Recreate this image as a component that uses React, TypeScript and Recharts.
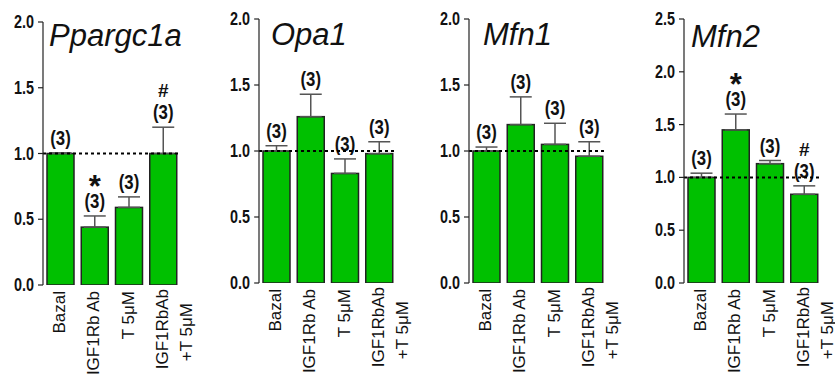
import { BarChart, Bar, XAxis, YAxis, ErrorBar, ReferenceLine } from 'recharts';

// x categories (each entry = lines of the rotated tick label)
const categories = [['Bazal'], ['IGF1Rb Ab'], ['T 5\u03bcM'], ['IGF1RbAb', '+T 5\u03bcM']];

const ppargc1a = [1.0, 0.44, 0.59, 1.0];
const ppargc1aErr = [0.005, 0.085, 0.08, 0.2];
const ppargc1aMarks = ['', '*', '', '#'];

const opa1 = [1.0, 1.26, 0.83, 0.98];
const opa1Err = [0.04, 0.17, 0.11, 0.09];
const opa1Marks = ['', '', '', ''];

const mfn1 = [1.0, 1.2, 1.05, 0.96];
const mfn1Err = [0.03, 0.21, 0.16, 0.11];
const mfn1Marks = ['', '', '', ''];

const mfn2 = [1.0, 1.45, 1.13, 0.84];
const mfn2Err = [0.04, 0.15, 0.03, 0.08];
const mfn2Marks = ['', '*', '', '#'];

const nLabels = ['(3)', '(3)', '(3)', '(3)'];
const ticks2 = [0, 0.5, 1.0, 1.5, 2.0];
const ticks25 = [0, 0.5, 1.0, 1.5, 2.0, 2.5];

const GREEN = '#00c000';
const SANS = "'Liberation Sans', Arial, sans-serif";

const W = 202;
const AXIS_W = 43;
const PLOT_W = 137;
const H = 376;

function XTick(props: any) {
  const { x, y, payload } = props;
  const lines = categories[payload.index] || [String(payload.value)];
  return (
    <g>
      {lines.map((l, i) => {
        const tx = x + 5 + i * 24;
        const ty = y + (lines.length === 1 ? 6 : 4) + i * 14;
        return (
          <text key={i} x={tx} y={ty} transform={`rotate(-90, ${tx}, ${ty})`} textAnchor="end"
            fontFamily={SANS} fontSize={17} fill="#111">{l}</text>
        );
      })}
    </g>
  );
}

// narrow bold numbers, like Arial Narrow
function YTick(props: any) {
  const { x, y, payload } = props;
  return (
    <text transform={`translate(${x}, ${y}) scale(0.8, 1)`} textAnchor="end" dy={6}
      fontFamily={SANS} fontWeight="bold" fontSize={18} fill="#111">
      {Number(payload.value).toFixed(1)}
    </text>
  );
}

function makeShape(values: number[], errors: number[], marks: string[]) {
  return (p: any) => {
    const { x, y, width, height, index } = p;
    const perUnit = height / values[index];
    const errTop = y - errors[index] * perUnit;
    const cx = x + width / 2;
    const nBase = errTop - 8;
    const mark = marks[index];
    return (
      <g>
        <rect x={x} y={y} width={width} height={height} fill={GREEN} stroke="#222" strokeWidth={1.5} />
        <text transform={`translate(${cx}, ${nBase}) scale(0.84, 1)`} textAnchor="middle" fontFamily={SANS}
          fontWeight="bold" fontSize={20}
          fill="#111" stroke="#fff" strokeWidth={3} paintOrder="stroke">{nLabels[index]}</text>
        {mark === '*' && (
          <text x={cx} y={nBase - 11} textAnchor="middle" fontFamily={SANS} fontWeight="bold" fontSize={31}
            fill="#111">*</text>
        )}
        {mark === '#' && (
          <text x={cx} y={nBase - 22} textAnchor="middle" fontFamily={SANS} fontWeight="bold" fontSize={19}
            fill="#111">#</text>
        )}
      </g>
    );
  };
}

function Panel(props: {
  left: number; top: number; bottom: number; values: number[]; errors: number[]; marks: string[];
  yMax: number; ticks: number[];
}) {
  const { left, top, bottom, values, errors, marks, yMax, ticks } = props;
  const rows = values.map((v, i) => ({ name: categories[i].join(' '), value: v, err: [0, errors[i]] }));
  return (
    <div style={{ position: 'absolute', left, top: 0 }}>
      <BarChart width={W} height={H} data={rows}
        margin={{ top, right: W - AXIS_W - PLOT_W, left: 0, bottom: 0 }} barSize={27}>
        <XAxis dataKey="name" axisLine={false} tickLine={false} tickSize={0} tickMargin={0}
          height={H - bottom} interval={0} tick={<XTick />} />
        <YAxis width={AXIS_W} domain={[0, yMax]} ticks={ticks} allowDataOverflow
          axisLine={{ stroke: '#222', strokeWidth: 1.2 }}
          tickLine={{ stroke: '#222', strokeWidth: 1.2 }} tickSize={5} tickMargin={4}
          tick={<YTick />} />
        <Bar dataKey="value" isAnimationActive={false} shape={makeShape(values, errors, marks)}>
          <ErrorBar dataKey="err" direction="y" width={11} stroke="#555" strokeWidth={1.5} />
        </Bar>
        <ReferenceLine y={1} stroke="#000" strokeWidth={2} strokeDasharray="3 3" />
      </BarChart>
    </div>
  );
}

const titles = [
  { text: 'Ppargc1a', x: 49, y: 46 },
  { text: 'Opa1', x: 271, y: 45 },
  { text: 'Mfn1', x: 483, y: 45 },
  { text: 'Mfn2', x: 691, y: 47 },
];

export default function App() {
  return (
    <div style={{ position: 'absolute', left: 0, top: 0, width: 835, height: H, background: '#fff', overflow: 'hidden' }}>
      <Panel left={0} top={22} bottom={285} values={ppargc1a} errors={ppargc1aErr} marks={ppargc1aMarks} yMax={2} ticks={ticks2} />
      <Panel left={216} top={19} bottom={283} values={opa1} errors={opa1Err} marks={opa1Marks} yMax={2} ticks={ticks2} />
      <Panel left={426} top={19} bottom={283} values={mfn1} errors={mfn1Err} marks={mfn1Marks} yMax={2} ticks={ticks2} />
      <Panel left={641} top={19} bottom={283} values={mfn2} errors={mfn2Err} marks={mfn2Marks} yMax={2.5} ticks={ticks25} />
      <svg width={835} height={H} style={{ position: 'absolute', left: 0, top: 0, pointerEvents: 'none' }}>
        {titles.map((t) => (
          <text key={t.text} x={t.x} y={t.y} fontFamily={SANS} fontStyle="italic" fontSize={31} fill="#111">{t.text}</text>
        ))}
      </svg>
    </div>
  );
}
